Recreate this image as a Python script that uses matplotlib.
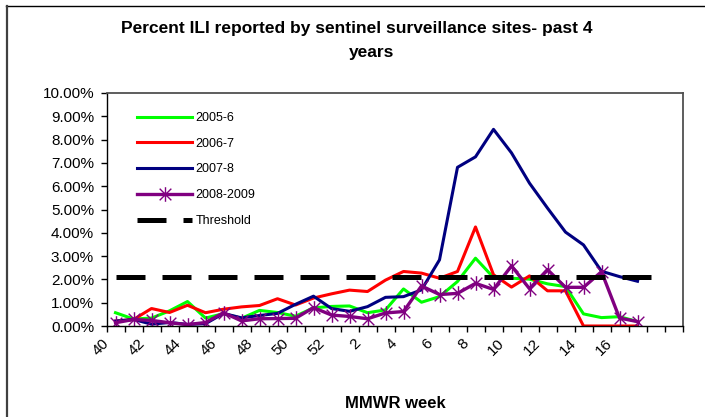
import matplotlib
matplotlib.use("Agg")
import matplotlib.pyplot as plt
from matplotlib.path import Path
from matplotlib.lines import Line2D
from matplotlib.transforms import ScaledTranslation

# MMWR weeks on the category axis (last two categories are blank)
weeks = [str(w) for w in range(40, 53)] + [str(w) for w in range(1, 18)] + ["", ""]

# percent ILI by week, season by season
ili_2005 = [0.57, 0.30, 0.34, 0.65, 1.05, 0.34, 0.53, 0.33, 0.67, 0.58,
            0.42, 0.78, 0.84, 0.86, 0.57, 0.69, 1.59, 1.02, 1.26, 1.91,
            2.91, 2.08, 2.05, 2.01, 1.81, 1.69, 0.52, 0.36, 0.40, 0.19]
ili_2006 = [0.21, 0.28, 0.75, 0.58, 0.89, 0.57, 0.72, 0.82, 0.88, 1.17,
            0.90, 1.20, 1.38, 1.54, 1.48, 1.97, 2.34, 2.27, 2.05, 2.34,
            4.25, 2.20, 1.67, 2.15, 1.51, 1.51, 0.00, 0.00, 0.00, 0.00]
ili_2007 = [0.21, 0.28, 0.08, 0.15, 0.07, 0.10, 0.54, 0.35, 0.45, 0.54,
            0.93, 1.28, 0.75, 0.63, 0.83, 1.23, 1.26, 1.55, 2.84, 6.81,
            7.26, 8.44, 7.43, 6.13, 5.06, 4.03, 3.48, 2.35, 2.12, 1.92]
ili_2008 = [0.14, 0.28, 0.24, 0.14, 0.06, 0.15, 0.57, 0.22, 0.31, 0.32,
            0.33, 0.79, 0.47, 0.41, 0.31, 0.56, 0.62, 1.72, 1.35, 1.40,
            1.83, 1.57, 2.58, 1.60, 2.42, 1.66, 1.66, 2.33, 0.34, 0.19]
threshold = [2.1] * 31

yticks = list(range(0, 11))

# Excel style star marker: vertical bar plus an X
star = Path([(0, -1), (0, 1), (-0.8, -0.8), (0.8, 0.8), (-0.8, 0.8), (0.8, -0.8)],
            [Path.MOVETO, Path.LINETO, Path.MOVETO, Path.LINETO, Path.MOVETO, Path.LINETO])

plt.rcParams['font.family'] = ['Liberation Sans', 'DejaVu Sans']

fig = plt.figure(figsize=(7.05, 4.17), dpi=100)
ax = fig.add_axes([106.5 / 705, 91 / 417, 576 / 705, 233 / 417])

x = range(len(ili_2005))
ax.plot(x, ili_2005, color='#00ff00', lw=2.2, label='2005-6')
ax.plot(x, ili_2006, color='#ff0000', lw=2.2, label='2006-7')
ax.plot(x, ili_2007, color='#000080', lw=2.2, label='2007-8')
ax.plot(x, ili_2008, color='#800080', lw=2.4, marker=star, ms=10.5,
        mew=1.0, mec='#800080', label='2008-2009')
ax.plot(range(len(threshold)), threshold, color='black', lw=3.6,
        dashes=(5.8, 3.4), dash_capstyle='butt', label='Threshold')

# axes
ax.set_xlim(-0.5, len(weeks) - 0.5)
ax.set_ylim(0, 10)
ax.set_yticks(yticks)
ax.set_yticklabels(['%.2f%%' % v for v in yticks], fontsize=11)
ax.tick_params(axis='y', direction='out', length=4, width=1, pad=5)

ax.set_xticks(range(0, len(weeks), 2))
ax.set_xticklabels(weeks[::2], fontsize=11, rotation=45,
                   ha='right', va='center', rotation_mode='anchor')
ax.set_xticks([i - 0.5 for i in range(len(weeks) + 1)], minor=True)
ax.tick_params(axis='x', which='major', length=0, pad=11)
ax.tick_params(axis='x', which='minor', direction='out', length=4, width=1)
shift = ScaledTranslation(-9 / 100, 0, fig.dpi_scale_trans)
for lab in ax.get_xticklabels():
    lab.set_transform(lab.get_transform() + shift)

for side in ['top', 'right']:
    ax.spines[side].set_color('#505050')
    ax.spines[side].set_linewidth(1.3)
for side in ['left', 'bottom']:
    ax.spines[side].set_color('black')
    ax.spines[side].set_linewidth(1.0)

ax.legend(loc='upper left', bbox_to_anchor=(0.045, 0.94), frameon=False,
          fontsize=9, handlelength=4.4, handletextpad=0.25,
          labelspacing=1.1, borderaxespad=0)

# titles
fig.text(357 / 705, 1 - 28 / 417,
         'Percent ILI reported by sentinel surveillance sites- past 4',
         ha='center', va='center', fontsize=12.5, fontweight='bold')
fig.text(372 / 705, 1 - 53 / 417, 'years', ha='center', va='center',
         fontsize=12.5, fontweight='bold')
fig.text(395 / 705, 1 - 403 / 417, 'MMWR week', ha='center', va='center',
         fontsize=12, fontweight='bold')

# chart area border (only top and left edges are in the crop)
fig.add_artist(Line2D([6 / 705, 1], [1 - 6 / 417, 1 - 6 / 417],
                      transform=fig.transFigure, color='black', lw=1.0))
fig.add_artist(Line2D([7 / 705, 7 / 705], [0, 1 - 6 / 417],
                      transform=fig.transFigure, color='#404040', lw=1.6))

fig.savefig('out.png', dpi=100)
